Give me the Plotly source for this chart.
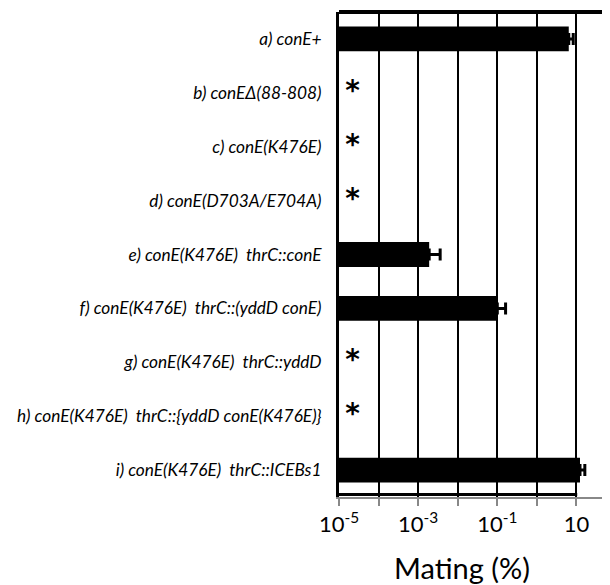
import plotly.graph_objects as go

categories = [
    "a) conE+",
    "b) conE\u0394(88-808)",
    "c) conE(K476E)",
    "d) conE(D703A/E704A)",
    "e) conE(K476E)  thrC::conE",
    "f) conE(K476E)  thrC::(yddD conE)",
    "g) conE(K476E)  thrC::yddD",
    "h) conE(K476E)  thrC::{yddD conE(K476E)}",
    "i) conE(K476E)  thrC::ICEBs1",
]
mating = [6.4, None, None, None, 0.0019, 0.10, None, None, 12.3]
mating_err = [1.9, 0, 0, 0, 0.0017, 0.062, 0, 0, 4.0]
undetected = ["b) conE\u0394(88-808)", "c) conE(K476E)", "d) conE(D703A/E704A)",
              "g) conE(K476E)  thrC::yddD", "h) conE(K476E)  thrC::{yddD conE(K476E)}"]
undetected_x = [2.2e-5] * len(undetected)

tick_vals = [1e-5, 1e-3, 1e-1, 10]
tick_text = ["10<sup>-5</sup>", "10<sup>-3</sup>", "10<sup>-1</sup>", "10"]
grid_vals = [1e-5, 1e-4, 1e-3, 1e-2, 1e-1, 1, 10]

fig = go.Figure()
fig.add_trace(go.Bar(
    y=categories, x=mating, orientation="h",
    marker=dict(color="black", line=dict(width=0)),
    error_x=dict(type="data", array=mating_err, arrayminus=[0] * 9, symmetric=False,
                 color="black", thickness=3, width=6),
    showlegend=False,
))
fig.add_trace(go.Scatter(
    y=undetected, x=undetected_x, mode="text", text=["<b>*</b>"] * len(undetected),
    textfont=dict(family="DejaVu Sans", size=28, color="black"),
    textposition="middle center", showlegend=False,
))

fig.update_layout(
    width=610, height=585,
    margin=dict(l=331, r=2, t=4, b=96),
    plot_bgcolor="white", paper_bgcolor="white",
    bargap=0.54,
    font=dict(family="Lato", color="black"),
    xaxis=dict(
        type="log", range=[-5, 2], automargin=False,
        tickvals=tick_vals, ticktext=tick_text,
        tickfont=dict(family="Lato", size=22, color="black"),
        showgrid=True, gridcolor="black", gridwidth=2,
        showline=True, linecolor="#888888", linewidth=2,
        ticks="outside", ticklen=7, tickwidth=2, tickcolor="#888888",
        minor=dict(tickvals=grid_vals, showgrid=True, gridcolor="black", gridwidth=2,
                   ticks="outside", ticklen=7, tickwidth=2, tickcolor="#888888"),
        zeroline=False,
    ),
    yaxis=dict(
        type="category", categoryorder="array", categoryarray=categories,
        autorange="reversed", automargin=False,
        tickfont=dict(family="Lato", size=17.3, color="black", style="italic"),
        showline=True, linecolor="black", linewidth=3,
        ticks="", ticklabelstandoff=11, showgrid=False,
    ),
)
fig.add_annotation(text="Mating (%)", xref="paper", yref="paper", x=0.444, y=0,
                   yshift=-70, xanchor="center", yanchor="middle", showarrow=False,
                   font=dict(family="Lato", size=29, color="black"))
# frame lines (top and bottom) in paper coordinates
fig.add_shape(type="line", xref="paper", yref="paper", x0=0, x1=1, y0=1, y1=1,
              line=dict(color="black", width=4))
fig.add_shape(type="line", xref="paper", yref="paper", x0=0, x1=0.86, y0=0.005, y1=0.005,
              line=dict(color="black", width=3))

fig.write_html("out.html")
